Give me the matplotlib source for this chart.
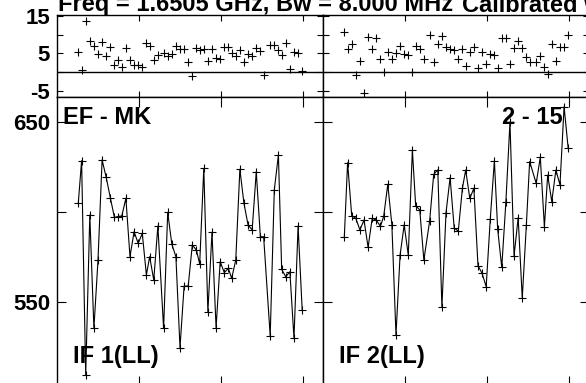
import matplotlib
matplotlib.use('Agg')
import matplotlib.pyplot as plt

plt.rcParams['font.family'] = 'Liberation Sans'
plt.rcParams['font.weight'] = 'bold'

# observation times (hours), three scans
times = [0.26, 0.30, 0.35, 0.40, 0.45, 0.50, 0.55, 0.60, 0.65, 0.70, 0.74,
         0.79, 0.84, 0.89, 0.94, 0.99, 1.04, 1.09, 1.13, 1.18, 1.23,
         1.30, 1.35, 1.40, 1.45, 1.50, 1.55, 1.60, 1.65, 1.70, 1.74, 1.79,
         1.84, 1.89, 1.94, 1.99, 2.04, 2.09, 2.13, 2.18, 2.23, 2.28, 2.33,
         2.38, 2.43, 2.48, 2.52,
         2.60, 2.65, 2.70, 2.74, 2.79, 2.84, 2.89, 2.94, 2.99]

# upper panels (scatter)
upper_if1 = [5.3, 0.7, 13.5, 8.4, 6.9, 4.9, 8.0, 4.4, 6.6, 1.9,
             3.3, 1.5, 6.4, 3.3, 1.8, 1.8, 1.3, 7.8, 7.1, 3.3,
             4.5, 5.0, 4.2, 4.9, 7.1, 6.2, 6.2, 2.8, -0.9, 6.4,
             5.9, 6.1, 3.0, 6.1, 3.9, 3.5, 6.8, 6.8, 5.0, 4.2,
             5.9, 2.6, 4.8, 4.2, 6.4, 5.6, -0.7, 7.3, 7.3, 5.9,
             4.6, 7.7, 1.0, 5.4, 5.0, 0.4]
upper_if2 = [10.7, 6.3, 7.4, -0.8, 3.1, -5.4, 9.4, 6.3, 9.1, 3.6, 0.0,
             5.4, 3.4, 5.1, 6.9, 4.9, 4.5, 0.0, 7.1, 6.3, 3.4,
             9.9, 2.7, 7.5, 9.7, 6.8, 6.2, 5.9, 3.6, 6.3, 1.6, 5.5, 6.7,
             1.2, 5.3, 2.1, 4.9, 4.7, 1.2, 9.2, 9.2, 2.2, 6.4, 8.2, 6.4,
             4.1, 2.8,
             2.8, 4.2, 1.4, -0.4, 7.4, 2.9, 6.7, 6.7, 10.0]

# lower panels (connected)
lower_if1 = [605.2, 628.6, 509.1, 598.3, 535.1, 573.2, 629.0, 619.3, 608.0, 597.0,
             597.4, 597.8, 607.6, 575.1, 589.0, 582.5, 588.1, 564.9, 575.1, 562.1,
             592.2, 535.1, 599.8, 582.2, 575.1, 524.4, 558.7, 558.7, 581.6, 578.8,
             571.0, 624.3, 544.4, 588.7, 535.5, 572.3, 566.2, 568.6, 563.0, 573.2,
             623.8, 604.8, 592.8, 590.0, 622.5, 586.2, 586.2, 530.9, 612.3, 631.8,
             568.0, 563.9, 566.7, 529.6, 592.2, 545.4]
lower_if2 = [586.0, 627.5, 598.0, 596.5, 590.0, 595.5, 580.3, 596.5, 595.5, 592.0,
             597.5, 615.4, 592.8, 531.4, 576.0, 592.8, 576.0, 634.6, 603.5, 601.2,
             573.2,
             594.8, 621.0, 623.5, 546.8, 599.5, 619.2, 591.0, 589.4, 613.2, 623.4,
             607.6, 613.2, 570.1, 565.8, 558.4, 596.1, 628.6, 590.5, 569.1, 605.4,
             650.0, 575.6, 596.8, 551.9, 592.8, 628.1,
             616.0, 630.5, 591.8, 620.6, 605.8, 623.4, 615.1, 658.7, 635.5]

W, H = 586, 383
fig = plt.figure(figsize=(W / 100, H / 100), dpi=100)


def px_rect(x0, y0, x1, y1):
    return [x0 / W, 1 - y1 / H, (x1 - x0) / W, (y1 - y0) / H]


ax_tl = fig.add_axes(px_rect(57, 15, 323, 97))
ax_tr = fig.add_axes(px_rect(323, 15, 589, 97))
ax_bl = fig.add_axes(px_rect(57, 97, 323, 386))
ax_br = fig.add_axes(px_rect(323, 97, 589, 386))

for ax, vals in [(ax_tl, upper_if1), (ax_tr, upper_if2)]:
    ax.axhline(0, color='black', lw=1.0)
    ax.plot(times, vals, ls='none', marker='+', ms=6, mew=0.8, color='black')
    ax.set_ylim(-6.56, 15.2)
    ax.set_yticks([-5, 0, 5, 10, 15])
    ax.tick_params(axis='x', length=4, width=0.8)
    ax.tick_params(axis='y', length=4.5, width=0.8)

for ax, vals in [(ax_bl, lower_if1), (ax_br, lower_if2)]:
    ax.plot(times, vals, color='black', lw=0.8, marker='+', ms=6, mew=0.8)
    ax.set_ylim(503, 664.1)
    ax.set_yticks([550, 600, 650])
    ax.tick_params(axis='x', length=7, width=0.8)
    ax.tick_params(axis='y', length=6.5, width=0.8)

for ax in [ax_tl, ax_tr, ax_bl, ax_br]:
    ax.set_xlim(0, 266 / 82)
    ax.set_xticks([1, 2, 3])
    ax.set_xticklabels([])
    ax.tick_params(direction='in', top=True, right=True, labelsize=16, pad=5)
    for sp in ax.spines.values():
        sp.set_linewidth(1.0)

ax_tl.set_yticklabels(['-5', '', '5', '', '15'])
ax_bl.set_yticklabels(['550', '', '650'])
ax_tr.set_yticklabels([])
ax_br.set_yticklabels([])

# annotations
fig.text(58 / W, 1 - 11.5 / H, 'Freq = 1.6505 GHz, Bw = 8.000 MHz', fontsize=17,
         fontweight='bold', va='baseline', ha='left')
fig.text(462 / W, 1 - 11.5 / H, 'Calibrated with CL 2', fontsize=17,
         fontweight='bold', va='baseline', ha='left')
fig.text(63 / W, 1 - 124 / H, 'EF - MK', fontsize=17, fontweight='bold',
         va='baseline', ha='left')
fig.text(563 / W, 1 - 124 / H, '2 - 15', fontsize=17, fontweight='bold',
         va='baseline', ha='right')
fig.text(73 / W, 1 - 363 / H, 'IF 1(LL)', fontsize=17, fontweight='bold',
         va='baseline', ha='left')
fig.text(339 / W, 1 - 363 / H, 'IF 2(LL)', fontsize=17, fontweight='bold',
         va='baseline', ha='left')

fig.savefig('out.png', dpi=100, facecolor='white')
